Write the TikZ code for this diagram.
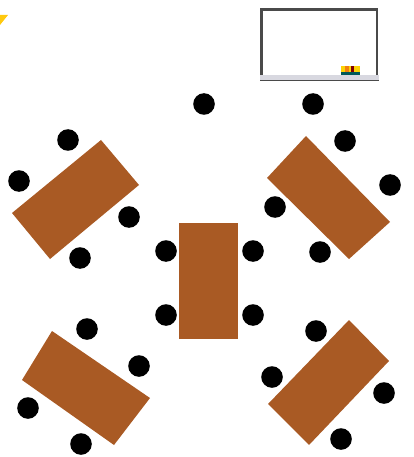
\documentclass[tikz,border=0pt]{standalone}
\usepackage{tikz}
\definecolor{desk-brown}{HTML}{A95A24}
\definecolor{board-frame}{HTML}{4A4A4A}
\definecolor{board-tray}{HTML}{D8D8E0}
\definecolor{room-star}{HTML}{FFC90E}
\tikzset{
    desk/.style={fill=desk-brown, draw=none},
    seat/.style={fill=black, draw=none},
}
\begin{document}
\begin{tikzpicture}[x=1pt, y=-1pt]
    \useasboundingbox (0,0) rectangle (414,457);

    % --- Corner mark ---
    \fill[room-star] (0,15) -- (8,15) -- (0,25) -- cycle;

    % --- Whiteboard ---
    \draw[board-frame, line width=2.2pt, fill=white] (261.5,78) -- (261.5,9.5) -- (377,9.5) -- (377,78);
    \fill[board-tray] (260,75) rectangle (379,80);
    \draw[board-frame, line width=0.6pt] (260,80) -- (379,80);
    \fill[yellow!70!orange] (341,66) rectangle (360,72);
    \fill[red!50!black] (351,66) rectangle (353.5,72);
    \fill[orange!80!brown] (345,66) rectangle (349,72);
    \fill[teal!70!black] (341,72) rectangle (360,75);

    % --- Desks ---
    \fill[desk] (101,140) -- (139,185) -- (50,259) -- (12,213) -- cycle;
    \fill[desk] (306,136) -- (390,222) -- (349,259) -- (267,178) -- cycle;
    \fill[desk] (179,223) rectangle (238,339);
    \fill[desk] (52,331) -- (150,398) -- (114,445) -- (22,380) -- cycle;
    \fill[desk] (349,320) -- (389,361) -- (309,445) -- (268,404) -- cycle;

    % --- Seats ---
    \foreach \sx/\sy in {204/104, 313/104, 68/140, 19/181, 129/217, 80/258,
        345/141, 390/185, 275/207, 320/252, 166/251, 253/251, 166/315, 253/315,
        87/329, 139/366, 28/408, 81/444, 316/331, 272/377, 384/393, 341/439} {
        \fill[seat] (\sx,\sy) circle (10.8);
    }
\end{tikzpicture}
\end{document}
